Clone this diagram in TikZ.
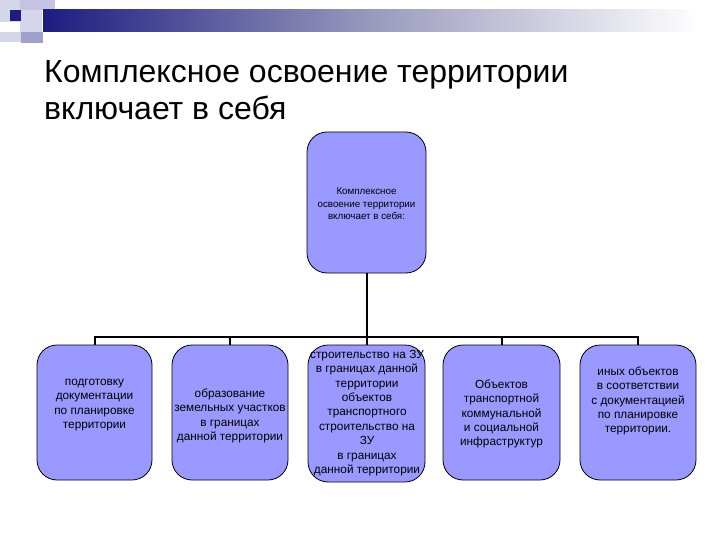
\documentclass[tikz,border=0pt]{standalone}
\usepackage{fontspec}
\setmainfont{Liberation Sans}
\definecolor{boxfill}{RGB}{153,153,255}
\definecolor{navy}{RGB}{28,28,130}
\definecolor{lav1}{RGB}{214,214,234}
\definecolor{lav2}{RGB}{160,160,205}
\definecolor{lav3}{RGB}{196,196,226}
\begin{document}
\begin{tikzpicture}[x=1pt,y=-1pt,
  box/.style={draw=black,line width=0.8pt,fill=boxfill,rounded corners=20pt,inner sep=0pt},
  boxtext/.style={align=center,inner sep=0pt,font=\fontsize{11.8}{14.4}\selectfont},
  conn/.style={draw=black,line width=2pt}]
\useasboundingbox (0,0) rectangle (720,540);
\fill[white] (0,0) rectangle (720,540);
% decoration
\fill[lav1] (0,0) rectangle (42,42);
\fill[lav3] (20,0) rectangle (55,10);
\shade[left color=navy,right color=white,middle color=lav2!80!gray] (43,10) rectangle (700,32);
\fill[lav2] (21,32) rectangle (43,43);
\fill[navy] (10,10) rectangle (21,21);
\fill[white] (0,22) rectangle (20,32);
% title
\node[anchor=base west,inner sep=0pt,align=left,font=\fontsize{32}{36}\selectfont] (title) at (44,83)
  {Комплексное освоение территории};
\node[anchor=base west,inner sep=0pt,align=left,font=\fontsize{32}{36}\selectfont] (title2) at (44,120)
  {включает в себя};
% top box
\node[box,minimum width=119pt,minimum height=141pt] (top) at (366.5,202.5) {};
\node[align=center,inner sep=0pt,font=\fontsize{9.8}{12.5}\selectfont] (toptext) at (366.5,204)
  {Комплексное\\освоение территории\\включает в себя:};
% bottom boxes
\node[box,minimum width=115pt,minimum height=135pt] (b1) at (94.5,412.5) {};
\node[box,minimum width=116pt,minimum height=135pt] (b2) at (230,412.5) {};
\node[box,minimum width=117pt,minimum height=137pt] (b3) at (366.5,413.5) {};
\node[box,minimum width=117pt,minimum height=135pt] (b4) at (501.5,412.5) {};
\node[box,minimum width=116pt,minimum height=135pt] (b5) at (638,412.5) {};
\node[boxtext] (t1) at (94.5,405) {подготовку\\документации\\по планировке\\территории};
\node[boxtext] (t2) at (230,416) {образование\\земельных участков\\в границах\\данной территории};
\node[boxtext] (t3) at (367,413) {строительство на ЗУ\\в границах данной\\территории\\объектов\\транспортного\\строительство на\\ЗУ\\в границах\\данной территории};
\node[boxtext] (t4) at (501.5,414) {Объектов\\транспортной\\коммунальной\\и социальной\\инфраструктур};
\node[boxtext] (t5) at (638,401) {иных объектов\\в соответствии\\с документацией\\по планировке\\территории.};
% connectors
\coordinate (bus) at (366.5,337);
\draw[conn] (top.south) -- (bus);
\draw[conn] (b1.north) |- (bus) -| (b5.north);
\draw[conn] (b2.north) -- (b2.north |- bus);
\draw[conn] (b3.north) -- (bus);
\draw[conn] (b4.north) -- (b4.north |- bus);
\end{tikzpicture}
\end{document}
